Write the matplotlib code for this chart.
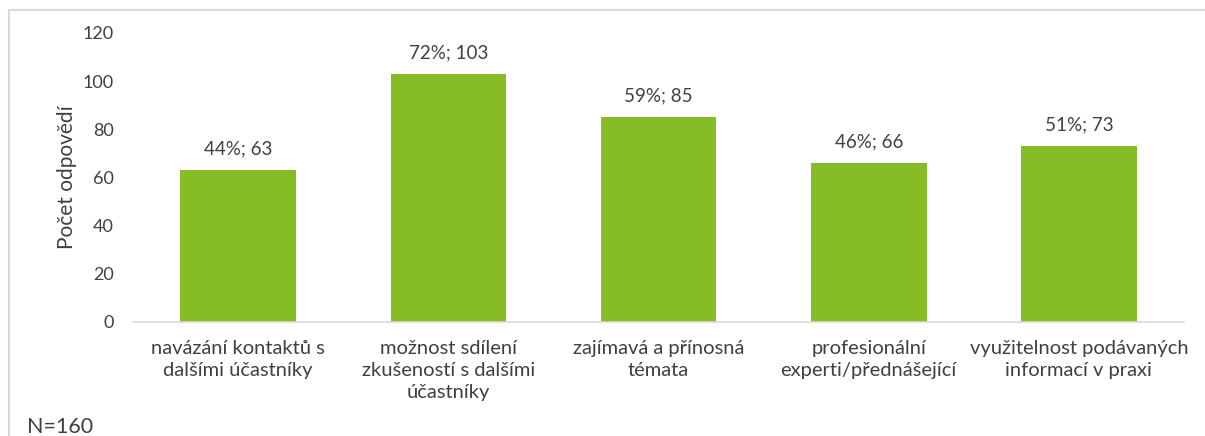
import matplotlib
matplotlib.use("Agg")
from matplotlib import pyplot as plt
from matplotlib.patches import Rectangle

categories = [
    "navázání kontaktů s\ndalšími účastníky",
    "možnost sdílení\nzkušeností s dalšími\núčastníky",
    "zajímavá a přínosná\ntémata",
    "profesionální\nexperti/přednášející",
    "využitelnost podávaných\ninformací v praxi",
]
counts = [63, 103, 85, 66, 73]
percents = [44, 72, 59, 46, 51]

plt.rcParams['font.family'] = ['Lato', 'DejaVu Sans']
text_color = '#404040'
bar_color = '#86bc25'

fig = plt.figure(figsize=(12.05, 4.36), dpi=100)
ax = fig.add_axes([0.1104, 0.2615, 0.8722, 0.663])

x = list(range(len(categories)))
ax.bar(x, counts, width=0.55, color=bar_color)

# data labels: "pct%; count"
for xi, c, p in zip(x, counts, percents):
    ax.annotate(f"{p}%; {c}", (xi, c), xytext=(0, 9), textcoords='offset points',
                ha='center', va='bottom', fontsize=13.5, color=text_color)

ax.set_xlim(-0.5, len(categories) - 0.5)
ax.set_ylim(0, 120)
ax.set_yticks(range(0, 121, 20))
ax.set_xticks(x)
ax.set_xticklabels(categories, fontsize=14.5, color=text_color, linespacing=1.35)
ax.tick_params(axis='y', length=0, pad=14, labelsize=13, labelcolor=text_color)
ax.tick_params(axis='x', length=0, pad=13)
for s in ['top', 'right', 'left']:
    ax.spines[s].set_visible(False)
ax.spines['bottom'].set_color('#d9d9d9')
ax.spines['bottom'].set_linewidth(1.2)
ax.set_ylabel('Počet odpovědí', fontsize=15, color=text_color, labelpad=4)

# chart frame (clipped by the figure edge at right and bottom)
fig.patches.append(Rectangle((9 / 1205, -0.1), 1.2, (436 - 10) / 436 + 0.1,
                             transform=fig.transFigure, fill=False,
                             edgecolor='#d9d9d9', linewidth=1.5))

fig.text(27 / 1205, 9 / 436, 'N=160', fontsize=15.5, color=text_color, va='center')

plt.savefig('out.png', dpi=100)
